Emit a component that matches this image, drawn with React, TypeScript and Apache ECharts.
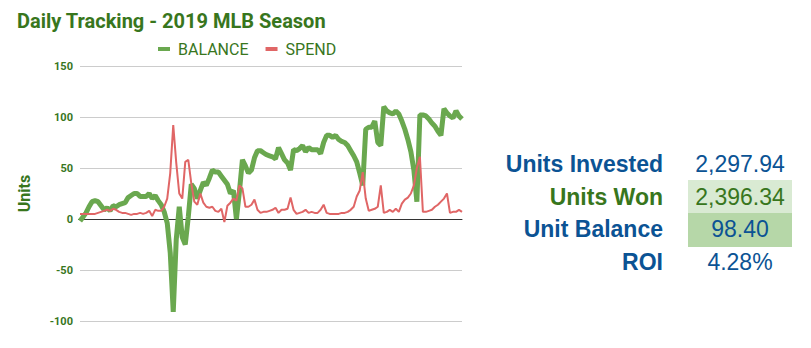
import React, { useEffect, useRef } from "react";
import * as echarts from "echarts";

const balance = [
  -2, 2, 6, 12, 17, 18, 17, 13, 9, 11, 8, 13, 12, 14, 15, 16, 21, 23, 25, 25,
  22, 22, 22, 25, 20, 23, 18, 14, 7, -4, -33, -91, -20, 12, -18, -25, 2, 34, 30, 20,
  28, 36, 33, 40, 48, 46, 46, 42, 38, 34, 25, 28, 0, 27, 58, 52, 45, 48, 60, 67,
  67, 65, 63, 62, 61, 59, 70, 64, 58, 55, 48, 68, 67, 69, 72, 66, 70, 68, 68, 68,
  64, 75, 82, 82, 80, 82, 78, 76, 75, 72, 67, 62, 56, 45, 33, 88, 90, 90, 96, 75,
  72, 110, 106, 104, 103, 106, 103, 96, 88, 78, 66, 48, 17, 102, 102, 101, 98, 94, 91, 86,
  82, 108, 104, 101, 99, 106, 101, 98,
];

const spend = [
  5, 5, 5, 5, 5, 5, 6, 7, 8, 9, 8, 10, 9, 7, 6, 6, 5, 4, 5, 5,
  6, 5, 6, 8, 3, 9, 8, 8, 12, 20, 45, 92, 55, 25, 20, 56, 58, 35, 17, 14,
  25, 16, 12, 11, 12, 8, 7, 10, -3, 13, 16, 20, 18, 33, 30, 12, 12, 14, 19, 9,
  6, 7, 7, 8, 9, 11, 6, 9, 9, 10, 21, 9, 5, 6, 7, 9, 6, 7, 6, 6,
  9, 14, 6, 5, 5, 5, 5, 6, 6, 7, 9, 12, 22, 28, 46, 20, 8, 9, 10, 12,
  33, 6, 7, 9, 7, 10, 7, 15, 19, 21, 25, 33, 50, 61, 7, 7, 8, 9, 12, 14,
  17, 20, 25, 6, 7, 7, 9, 7,
];

const days = balance.map((_, i) => String(i + 1));

const yTicks = { min: -100, max: 150, interval: 50 };

const summaryLabels = ["Units Invested", "Units Won", "Unit Balance", "ROI"];
const summaryValues = ["2,297.94", "2,396.34", "98.40", "4.28%"];

const GREEN_DARK = "#38761d";
const BLUE = "#0b5394";

export default function App() {
  const ref = useRef<HTMLDivElement>(null);

  useEffect(() => {
    if (!ref.current) return;
    const chart = echarts.init(ref.current, undefined, { renderer: "svg" });

    const rowY = [164, 197, 229, 262];
    const labelColors = [BLUE, GREEN_DARK, BLUE, BLUE];
    const valueColors = [BLUE, GREEN_DARK, BLUE, BLUE];

    const graphics: any[] = [
      {
        type: "rect",
        shape: { x: 688, y: 180, width: 104, height: 33 },
        style: { fill: "#d9ead3" },
        silent: true,
      },
      {
        type: "rect",
        shape: { x: 688, y: 213, width: 104, height: 34 },
        style: { fill: "#b6d7a8" },
        silent: true,
      },
      {
        type: "line",
        shape: { x1: 78, y1: 219.5, x2: 80, y2: 219.5 },
        style: { stroke: "#333333", lineWidth: 1 },
        silent: true,
      },
    ];
    summaryLabels.forEach((lab, i) => {
      graphics.push({
        type: "text",
        x: 663,
        y: rowY[i],
        style: {
          text: lab,
          fill: labelColors[i],
          font: "bold 23px 'Liberation Sans', Arial, sans-serif",
          align: "right",
          verticalAlign: "middle",
        },
      });
      graphics.push({
        type: "text",
        x: 740,
        y: rowY[i],
        style: {
          text: summaryValues[i],
          fill: valueColors[i],
          font: "23px 'Liberation Sans', Arial, sans-serif",
          align: "center",
          verticalAlign: "middle",
        },
      });
    });

    chart.setOption({
      animation: false,
      backgroundColor: "#ffffff",
      title: {
        text: "Daily Tracking - 2019 MLB Season",
        left: 12,
        top: 6,
        textStyle: {
          color: GREEN_DARK,
          fontFamily: "Roboto",
          fontWeight: "bold",
          fontSize: 20,
        },
      },
      legend: {
        left: 153,
        top: 36,
        icon: "rect",
        itemWidth: 12,
        itemHeight: 4,
        itemGap: 17,
        textStyle: {
          color: GREEN_DARK,
          fontFamily: "Roboto",
          fontSize: 16,
          lineHeight: 16,
          padding: [0, 0, 0, 3],
        },
        data: ["BALANCE", "SPEND"],
      },
      grid: { left: 80, right: 349, top: 66, bottom: 27 },
      xAxis: {
        type: "category",
        data: days,
        boundaryGap: false,
        axisLine: { show: true, onZero: true, lineStyle: { color: "#333333", width: 1 } },
        axisTick: { show: false },
        axisLabel: { show: false },
        splitLine: { show: false },
      },
      yAxis: {
        type: "value",
        min: yTicks.min,
        max: yTicks.max,
        interval: yTicks.interval,
        name: "Units",
        nameLocation: "middle",
        nameGap: 48,
        nameTextStyle: {
          color: GREEN_DARK,
          fontFamily: "Roboto",
          fontWeight: "bold",
          fontSize: 16,
        },
        axisLine: { show: false },
        axisTick: { show: false },
        axisLabel: {
          color: GREEN_DARK,
          fontFamily: "Roboto",
          fontWeight: "bold",
          fontSize: 11,
          margin: 7,
        },
        splitLine: { lineStyle: { color: "#cccccc", width: 1 } },
      },
      series: [
        {
          name: "BALANCE",
          type: "line",
          data: balance,
          showSymbol: false,
          symbol: "none",
          color: "#6aa84f",
          lineStyle: { width: 5, color: "#6aa84f" },
        },
        {
          name: "SPEND",
          type: "line",
          data: spend,
          showSymbol: false,
          symbol: "none",
          color: "#e06666",
          lineStyle: { width: 2, color: "#e06666" },
        },
      ],
      graphic: graphics,
    });

    return () => chart.dispose();
  }, []);

  return (
    <div
      ref={ref}
      style={{ position: "absolute", left: 0, top: 0, width: 811, height: 348 }}
    />
  );
}
